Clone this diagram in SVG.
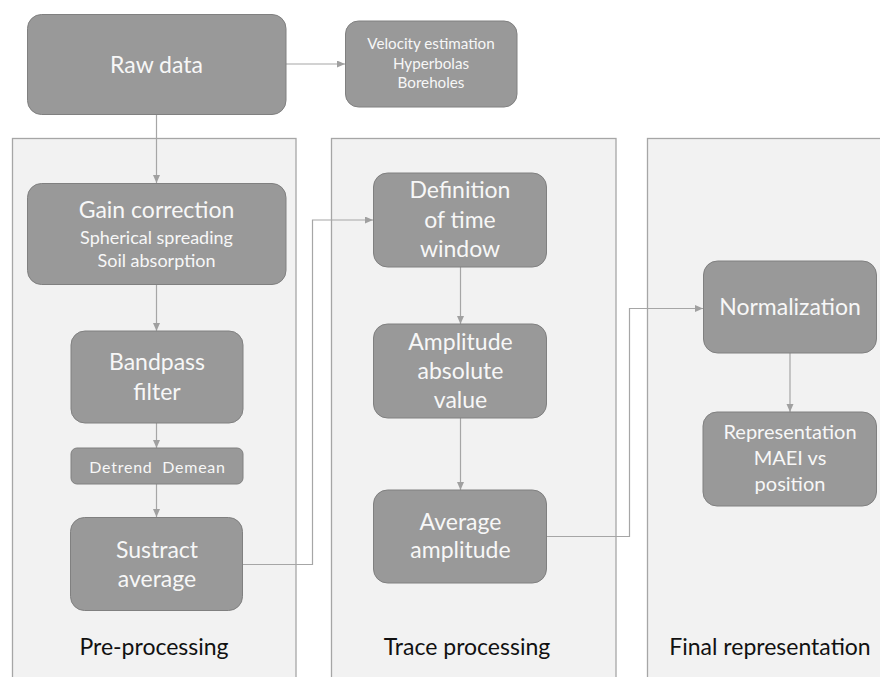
<svg xmlns="http://www.w3.org/2000/svg" width="880" height="677" viewBox="0 0 880 677">
<style>
.panel{fill:#f2f2f2;stroke:#a6a6a6;stroke-width:1.3}
.node{fill:#999999;stroke:#808080;stroke-width:1}
.t{font-family:Lato,"Liberation Sans",sans-serif;fill:#f7f7f7;text-anchor:middle}
.big{font-size:23px}
.mid{font-size:18px}
.sm{font-size:15.2px}
.dd{font-size:16px;letter-spacing:0.75px}
.rep{font-size:20px}
.lab{font-family:Lato,"Liberation Sans",sans-serif;fill:#111;text-anchor:middle;font-size:23px}
.con{fill:none;stroke:#a6a6a6;stroke-width:1.2}
</style>
<defs>
<marker id="ah" markerUnits="userSpaceOnUse" markerWidth="9" markerHeight="8" refX="8" refY="3.5" orient="auto">
<path d="M0,0 L8,3.5 L0,7 z" fill="#a0a0a0"/>
</marker>
</defs>
<rect width="880" height="677" fill="#ffffff"/>
<g id="panels">
<rect class="panel" x="12.5" y="138.5" width="283.5" height="560"/>
<rect class="panel" x="331.5" y="138.5" width="284.5" height="560"/>
<rect class="panel" x="647.5" y="138.5" width="250" height="560"/>
<text class="lab" x="154" y="655">Pre-processing</text>
<text class="lab" x="467" y="655">Trace processing</text>
<text class="lab" x="770" y="655">Final representation</text>
</g>
<g id="connectors">
<path class="con" d="M286,64 H345" marker-end="url(#ah)"/>
<path class="con" d="M156.5,114 V183" marker-end="url(#ah)"/>
<path class="con" d="M156.5,284 V331" marker-end="url(#ah)"/>
<path class="con" d="M156.5,423 V448" marker-end="url(#ah)"/>
<path class="con" d="M156.5,484 V517" marker-end="url(#ah)"/>
<path class="con" d="M243,564.5 H312.5 V220 H373" marker-end="url(#ah)"/>
<path class="con" d="M460.5,267 V324" marker-end="url(#ah)"/>
<path class="con" d="M460.5,418 V490" marker-end="url(#ah)"/>
<path class="con" d="M547,536.5 H629.5 V308.5 H703" marker-end="url(#ah)"/>
<path class="con" d="M790,353 V412" marker-end="url(#ah)"/>
</g>
<g id="raw">
<rect class="node" x="27.5" y="14.5" width="258.5" height="100" rx="14"/>
<text class="t big" x="156.5" y="72.5">Raw data</text>
</g>
<g id="velocity">
<rect class="node" x="345.5" y="21" width="171.5" height="86" rx="13"/>
<text class="t sm" x="431" y="49.3">Velocity estimation</text>
<text class="t sm" x="431" y="68.5">Hyperbolas</text>
<text class="t sm" x="431" y="88.3">Boreholes</text>
</g>
<g id="gain">
<rect class="node" x="27.5" y="183.5" width="258.5" height="101" rx="14"/>
<text class="t big" x="156.5" y="218">Gain correction</text>
<text class="t mid" x="156.5" y="244">Spherical spreading</text>
<text class="t mid" x="156.5" y="267">Soil absorption</text>
</g>
<g id="bandpass">
<rect class="node" x="71" y="331" width="172" height="92" rx="14"/>
<text class="t big" x="157" y="370">Bandpass</text>
<text class="t big" x="157" y="400">filter</text>
</g>
<g id="detrend">
<rect class="node" x="71" y="448" width="172" height="36" rx="6"/>
<text class="t dd" x="157.5" y="472.7" xml:space="preserve">Detrend  Demean</text>
</g>
<g id="sustract">
<rect class="node" x="70.5" y="517.5" width="172" height="93" rx="14"/>
<text class="t big" x="157" y="558.3">Sustract</text>
<text class="t big" x="157" y="586.7">average</text>
</g>
<g id="definition">
<rect class="node" x="373.5" y="173" width="173" height="94" rx="14"/>
<text class="t big" x="460" y="198.3">Definition</text>
<text class="t big" x="460" y="227.7">of time</text>
<text class="t big" x="460" y="256.7">window</text>
</g>
<g id="amplitude">
<rect class="node" x="373.5" y="324" width="173" height="94" rx="14"/>
<text class="t big" x="460.5" y="350">Amplitude</text>
<text class="t big" x="460.5" y="379.3">absolute</text>
<text class="t big" x="460.5" y="408.3">value</text>
</g>
<g id="average">
<rect class="node" x="373.5" y="490" width="173" height="93" rx="14"/>
<text class="t big" x="460.5" y="530">Average</text>
<text class="t big" x="460.5" y="558.3">amplitude</text>
</g>
<g id="normalization">
<rect class="node" x="703.5" y="261" width="173" height="92" rx="14"/>
<text class="t big" x="790" y="315">Normalization</text>
</g>
<g id="representation">
<rect class="node" x="703" y="412" width="173.5" height="94" rx="14"/>
<text class="t rep" x="790" y="438.5">Representation</text>
<text class="t rep" x="790" y="465">MAEI vs</text>
<text class="t rep" x="790" y="490.5">position</text>
</g>
</svg>
